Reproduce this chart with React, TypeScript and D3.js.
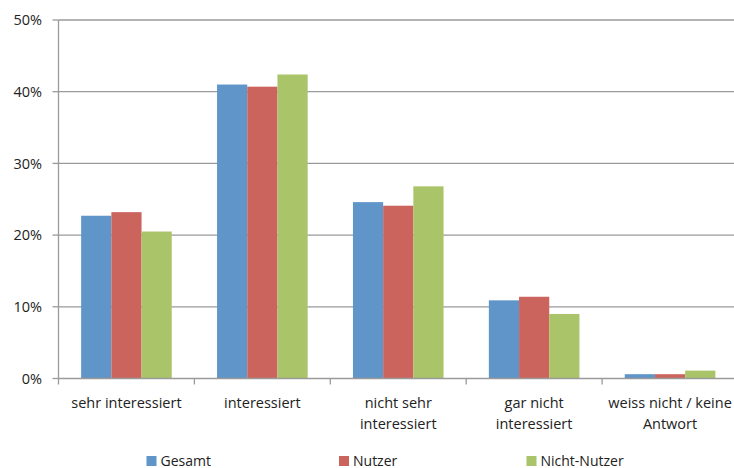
import React from 'react';
import * as d3 from 'd3';

const categories = [
  ['sehr interessiert'],
  ['interessiert'],
  ['nicht sehr', 'interessiert'],
  ['gar nicht', 'interessiert'],
  ['weiss nicht / keine', 'Antwort'],
];
const seriesNames = ['Gesamt', 'Nutzer', 'Nicht-Nutzer'];
const gesamt = [0.227, 0.41, 0.246, 0.109, 0.006];
const nutzer = [0.232, 0.407, 0.241, 0.114, 0.006];
const nichtNutzer = [0.205, 0.424, 0.268, 0.09, 0.011];
const yTicks = [0, 0.1, 0.2, 0.3, 0.4, 0.5];

const colors = ['#5f95c9', '#cc645e', '#aac46a'];
const font = "'Open Sans', 'Noto Sans', sans-serif";

const App: React.FC = () => {
  const width = 734;
  const height = 468;
  const left = 58.5;
  const right = 738;
  const top = 20;
  const bottom = 378.5;
  const values = [gesamt, nutzer, nichtNutzer];
  const keys = categories.map(c => c.join(' '));

  const x0 = d3.scaleBand<string>().domain(keys).range([left, right]).padding(0);
  const bw = x0.bandwidth();
  const x1 = d3.scaleBand<string>().domain(seriesNames).range([bw / 6, (bw * 5) / 6]).padding(0);
  const y = d3.scaleLinear().domain([0, 0.5]).range([bottom, top]);
  const fmt = d3.format('.0%');

  const legendX = [146.5, 339, 526.5];

  return (
    <svg
      width={width}
      height={height}
      style={{ position: 'absolute', left: 0, top: 0, background: '#fff' }}
      fontFamily={font}
    >
      {yTicks.map(t => (
        <g key={t}>
          {t > 0 && (
            <line x1={left} x2={width} y1={y(t)} y2={y(t)} stroke="#9a9a9a" strokeWidth={1.3} />
          )}
          <line x1={left - 6} x2={left} y1={y(t)} y2={y(t)} stroke="#9a9a9a" strokeWidth={1.3} />
          <text x={42} y={y(t)} dy="0.36em" textAnchor="end" fontSize={14.5} fill="#222">
            {fmt(t)}
          </text>
        </g>
      ))}
      {categories.map((c, i) =>
        values.map((vals, s) => (
          <rect
            key={`${i}-${s}`}
            x={(x0(keys[i]) ?? 0) + (x1(seriesNames[s]) ?? 0)}
            y={y(vals[i])}
            width={x1.bandwidth()}
            height={bottom - y(vals[i])}
            fill={colors[s]}
          />
        ))
      )}
      <line x1={left} x2={left} y1={top} y2={bottom} stroke="#9a9a9a" strokeWidth={1.3} />
      <line x1={left} x2={width} y1={bottom} y2={bottom} stroke="#9a9a9a" strokeWidth={1.3} />
      {keys.map(k => (
        <line
          key={k}
          x1={x0(k)}
          x2={x0(k)}
          y1={bottom}
          y2={bottom + 6}
          stroke="#9a9a9a"
          strokeWidth={1.3}
        />
      ))}
      {categories.map((lines, i) => (
        <text
          key={keys[i]}
          x={(x0(keys[i]) ?? 0) + bw / 2}
          y={407.5}
          textAnchor="middle"
          fontSize={14.5}
          fill="#222"
        >
          {lines.map((l, j) => (
            <tspan key={j} x={(x0(keys[i]) ?? 0) + bw / 2} dy={j === 0 ? 0 : 21}>
              {l}
            </tspan>
          ))}
        </text>
      ))}
      {seriesNames.map((n, s) => (
        <g key={n}>
          <rect x={legendX[s]} y={456} width={10} height={10} fill={colors[s]} />
          <text x={legendX[s] + 14} y={465.5} fontSize={14} fill="#222">
            {n}
          </text>
        </g>
      ))}
    </svg>
  );
};

export default App;
